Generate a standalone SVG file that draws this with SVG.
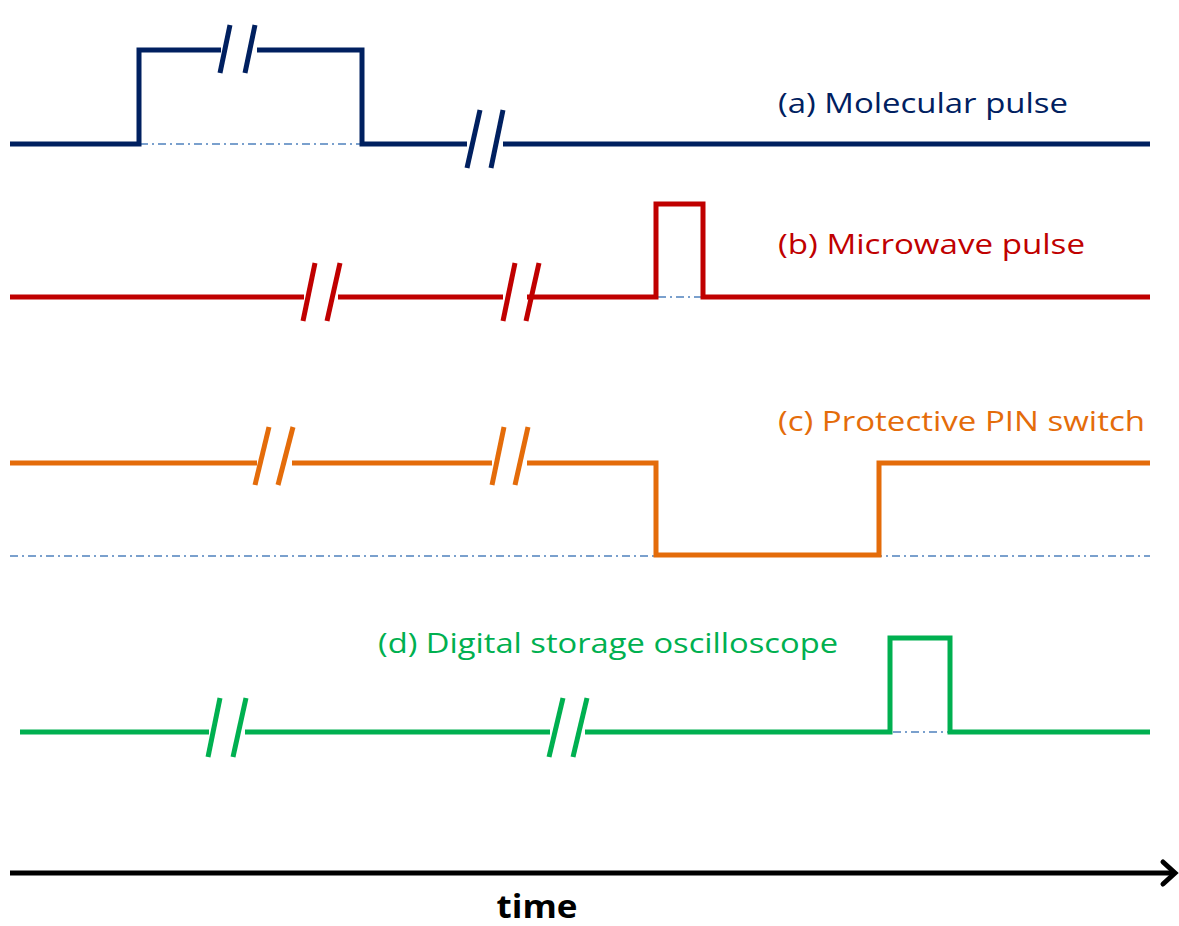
<svg xmlns="http://www.w3.org/2000/svg" width="1179" height="926" viewBox="0 0 1179 926">
<style>
.s{fill:none;stroke-width:5;stroke-linejoin:miter;stroke-linecap:butt}
.dd{fill:none;stroke:#4f81bd;stroke-width:1.6;stroke-dasharray:8 4 2 4}
.a{stroke:#002060}.b{stroke:#c00000}.c{stroke:#e46c0a}.d{stroke:#00b050}
.lbl{font-family:"Open Sans","Noto Sans",sans-serif;font-size:27px}
</style>
<rect width="1179" height="926" fill="#fff"/>
<g id="signal-a">
<line class="dd" x1="140" y1="144" x2="360" y2="144"/>
<polyline class="s a" points="10,144 139,144 139,50 221,50"/>
<polyline class="s a" points="257,50 362,50 362,144 467,144"/>
<line class="s a" x1="503" y1="144" x2="1150" y2="144"/>
<line class="s a" x1="220" y1="73" x2="230" y2="25"/>
<line class="s a" x1="245" y1="73" x2="255" y2="25"/>
<line class="s a" x1="467" y1="168" x2="480" y2="110"/>
<line class="s a" x1="491" y1="168" x2="503" y2="110"/>
<text class="lbl" x="778" y="113" fill="#002060" textLength="290" lengthAdjust="spacingAndGlyphs">(a) Molecular pulse</text>
</g>
<g id="signal-b">
<line class="dd" x1="658" y1="297" x2="701" y2="297"/>
<line class="s b" x1="10" y1="297" x2="304" y2="297"/>
<line class="s b" x1="338" y1="297" x2="503" y2="297"/>
<polyline class="s b" points="527,297 656,297 656,204 703,204 703,297 1150,297"/>
<line class="s b" x1="303" y1="321" x2="315" y2="263"/>
<line class="s b" x1="327" y1="321" x2="340" y2="263"/>
<line class="s b" x1="503" y1="321" x2="515" y2="263"/>
<line class="s b" x1="526" y1="321" x2="539" y2="263"/>
<text class="lbl" x="778" y="254" fill="#c00000" textLength="307" lengthAdjust="spacingAndGlyphs">(b) Microwave pulse</text>
</g>
<g id="signal-c">
<line class="dd" x1="10" y1="556" x2="1150" y2="556"/>
<line class="s c" x1="10" y1="463" x2="257" y2="463"/>
<line class="s c" x1="292" y1="463" x2="492" y2="463"/>
<polyline class="s c" points="527,463 656,463 656,555 879,555 879,463 1150,463"/>
<line class="s c" x1="255" y1="485" x2="269" y2="427"/>
<line class="s c" x1="278" y1="485" x2="293" y2="427"/>
<line class="s c" x1="492" y1="485" x2="504" y2="427"/>
<line class="s c" x1="515" y1="485" x2="528" y2="427"/>
<text class="lbl" x="778" y="431" fill="#e46c0a" textLength="367" lengthAdjust="spacingAndGlyphs">(c) Protective PIN switch</text>
</g>
<g id="signal-d">
<line class="dd" x1="893" y1="732" x2="948" y2="732"/>
<line class="s d" x1="20" y1="732" x2="209" y2="732"/>
<line class="s d" x1="245" y1="732" x2="550" y2="732"/>
<polyline class="s d" points="585,732 890,732 890,638 950,638 950,732 1150,732"/>
<line class="s d" x1="208" y1="757" x2="220" y2="698"/>
<line class="s d" x1="233" y1="757" x2="246" y2="698"/>
<line class="s d" x1="549" y1="757" x2="563" y2="698"/>
<line class="s d" x1="573" y1="757" x2="587" y2="698"/>
<text class="lbl" x="378" y="653" fill="#00b050" textLength="460" lengthAdjust="spacingAndGlyphs">(d) Digital storage oscilloscope</text>
</g>
<g id="connectors">
<line x1="10" y1="873" x2="1174" y2="873" stroke="#000" stroke-width="5"/>
<polyline points="1163,862 1175,873 1163,884" fill="none" stroke="#000" stroke-width="5" stroke-linecap="round" stroke-linejoin="miter"/>
</g>
<g id="axis-label">
<text x="537" y="918" text-anchor="middle" font-family="Open Sans,Noto Sans,sans-serif" font-weight="bold" font-size="32" fill="#000" textLength="81" lengthAdjust="spacingAndGlyphs">time</text>
</g>
</svg>
